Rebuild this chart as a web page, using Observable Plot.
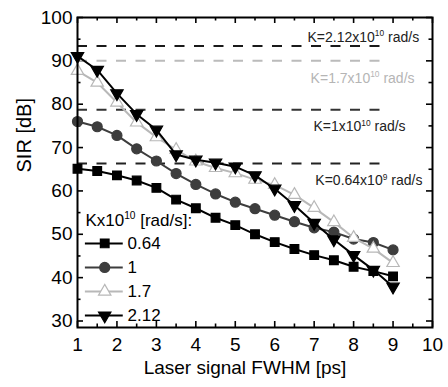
<!DOCTYPE html>
<html><head><meta charset="utf-8">
<script src="https://cdn.jsdelivr.net/npm/d3@7"></script>
<script src="https://cdn.jsdelivr.net/npm/@observablehq/plot@0.6"></script>
<style>
body{margin:0;background:#fff;}
#chart{width:448px;height:387px;}
</style></head><body><div id="chart"></div>
<script>
// ---- data ----
const fwhm = [1,1.5,2,2.5,3,3.5,4,4.5,5,5.5,6,6.5,7,7.5,8,8.5,9];
const sir064 = [65.1,64.6,63.6,62.4,60.7,58.0,56.0,53.8,52.1,50.0,48.2,46.6,45.2,44.0,42.5,41.5,40.3];
const sir1   = [76.0,74.8,72.8,69.7,66.9,64.0,61.5,59.3,57.4,55.9,54.4,52.9,51.5,50.5,48.9,48.1,46.4];
const sir17  = [87.7,85.0,80.4,75.8,72.4,69.5,66.8,65.3,64.1,62.6,61.4,59.1,56.1,52.8,49.2,46.7,43.4];
const sir212 = [91.1,87.9,82.5,77.7,74.1,68.4,67.2,66.5,65.6,63.6,60.5,56.7,52.6,48.8,45.2,41.8,37.9];
const seriesNames = ["0.64","1","1.7","2.12"];
const limitValues = [66.3, 78.7, 90.0, 93.4];
const limitLabels = ["K=0.64x10^9 rad/s","K=1x10^10 rad/s","K=1.7x10^10 rad/s","K=2.12x10^10 rad/s"];
const legendTitle = "Kx10^10 [rad/s]:";
const xTicks = [1,2,3,4,5,6,7,8,9,10];
const yTicks = [30,40,50,60,70,80,90,100];
const xLabel = "Laser signal FWHM [ps]";
const yLabel = "SIR [dB]";

// ---- styles / layout ----
const allSeries = [sir064, sir1, sir17, sir212];
const styles = [
  {stroke:"#000000", fill:"#000000", symbol:"square",   r:4.9, rotate:0},
  {stroke:"#3d3d3d", fill:"#3d3d3d", symbol:"circle",   r:5.0, rotate:0},
  {stroke:"#b8b8b8", fill:"#ffffff", symbol:"triangle", r:4.6, rotate:0},
  {stroke:"#000000", fill:"#000000", symbol:"triangle", r:4.6, rotate:180}
];
const limitColors = ["#222222","#333333","#bbbbbb","#1a1a1a"];
const limitTextColors = ["#222222","#222222","#b5b5b5","#222222"];
const limitLabelX = [7.03, 6.98, 6.91, 6.83];
const limitLabelY = [61.3, 73.75, 85.0, 94.44];
const limitEndX = 8.9;

const W = 448, H = 387, mL = 77, mR = 16, mT = 17, mB = 60;
const plotW = W - mL - mR, plotH = H - mT - mB;
const xDomain = [1, 10], yDomain = [28.5, 100];

const xMinor = d3.range(1.5, 10, 1);
const yMinor = d3.range(35, 100, 10);

const legendTop = 47.9, legendStep = 5.55;
const legendRows = seriesNames.map((n, i) => ({name: n, i, y: legendTop - i * legendStep}));

const marks = [];
// inward ticks on all four sides
const majL = 6, minL = 3.5;
marks.push(
  Plot.ruleX(xTicks, {insetTop: plotH - majL, stroke: "#000", strokeWidth: 1.6}),
  Plot.ruleX(xTicks, {insetBottom: plotH - majL, stroke: "#000", strokeWidth: 1.6}),
  Plot.ruleX(xMinor, {insetTop: plotH - minL, stroke: "#000", strokeWidth: 1.6}),
  Plot.ruleX(xMinor, {insetBottom: plotH - minL, stroke: "#000", strokeWidth: 1.6}),
  Plot.ruleY(yTicks, {insetRight: plotW - majL, stroke: "#000", strokeWidth: 1.6}),
  Plot.ruleY(yTicks, {insetLeft: plotW - majL, stroke: "#000", strokeWidth: 1.6}),
  Plot.ruleY(yMinor, {insetRight: plotW - minL, stroke: "#000", strokeWidth: 1.6}),
  Plot.ruleY(yMinor, {insetLeft: plotW - minL, stroke: "#000", strokeWidth: 1.6})
);
// horizontal dashed limits
limitValues.forEach((v, i) => {
  marks.push(Plot.ruleY([v], {x1: xDomain[0], x2: limitEndX, stroke: limitColors[i], strokeWidth: 2, strokeDasharray: "10,9.5"}));
  marks.push(Plot.text([limitLabels[i]], {x: limitLabelX[i], y: limitLabelY[i], text: d => d, textAnchor: "start", lineAnchor: "bottom", fontSize: 14, fill: limitTextColors[i]}));
});
// series
allSeries.forEach((vals, i) => {
  const rows = vals.map((v, j) => ({x: fwhm[j], y: v}));
  const s = styles[i];
  marks.push(Plot.line(rows, {x: "x", y: "y", stroke: s.stroke, strokeWidth: 2}));
  marks.push(Plot.dot(rows, {x: "x", y: "y", symbol: s.symbol, r: s.r, fill: s.fill, stroke: s.stroke, strokeWidth: 1.2, rotate: s.rotate}));
});
// legend
marks.push(Plot.text([legendTitle], {x: 1.2, y: legendTop + 4.05, text: d => d, textAnchor: "start", lineAnchor: "bottom", fontSize: 17, fill: "#000"}));
legendRows.forEach(row => {
  const s = styles[row.i];
  marks.push(Plot.ruleY([row.y], {x1: 1.2, x2: 2.16, stroke: s.stroke, strokeWidth: 2}));
  marks.push(Plot.dot([row], {x: 1.69, y: "y", symbol: s.symbol, r: s.r, fill: s.fill, stroke: s.stroke, strokeWidth: 1.2, rotate: s.rotate}));
  marks.push(Plot.text([row], {x: 2.27, y: "y", text: "name", textAnchor: "start", fontSize: 17, fill: "#000"}));
});
// frame and axes
marks.push(Plot.frame({stroke: "#000", strokeWidth: 2}));
marks.push(Plot.axisX(xTicks, {tickSize: 0, tickPadding: 10, fontSize: 19, label: null, tickFormat: d => String(d)}));
marks.push(Plot.axisY(yTicks, {tickSize: 0, tickPadding: 5, fontSize: 19, label: null, tickFormat: d => String(d)}));
marks.push(Plot.text([xLabel], {frameAnchor: "bottom", dx: -10, dy: 46, text: d => d, fontSize: 19, fill: "#000"}));
marks.push(Plot.text([yLabel], {frameAnchor: "left", dx: -53, rotate: -90, text: d => d, fontSize: 20, fill: "#000"}));

const chart = Plot.plot({
  width: W, height: H,
  marginLeft: mL, marginRight: mR, marginTop: mT, marginBottom: mB,
  x: {domain: xDomain},
  y: {domain: yDomain},
  style: {fontFamily: "'Liberation Sans', Arial, sans-serif", background: "#fff", overflow: "visible"},
  marks
});
document.getElementById("chart").appendChild(chart);

// superscripts for "^n" notation
chart.querySelectorAll("text").forEach(t => {
  const target = t.querySelector("tspan") || t;
  const s = target.textContent;
  const m = s.match(/^(.*?)\^(\d+)(.*)$/);
  if (!m) return;
  const fs = parseFloat(getComputedStyle(t).fontSize) || 14;
  const ns = "http://www.w3.org/2000/svg";
  target.textContent = "";
  target.appendChild(document.createTextNode(m[1]));
  const sup = document.createElementNS(ns, "tspan");
  sup.setAttribute("font-size", (fs * 0.6).toFixed(1));
  sup.setAttribute("dy", (-fs * 0.4).toFixed(1));
  sup.textContent = m[2];
  target.appendChild(sup);
  const rest = document.createElementNS(ns, "tspan");
  rest.setAttribute("dy", (fs * 0.4).toFixed(1));
  rest.textContent = m[3];
  target.appendChild(rest);
});
</script></body></html>
